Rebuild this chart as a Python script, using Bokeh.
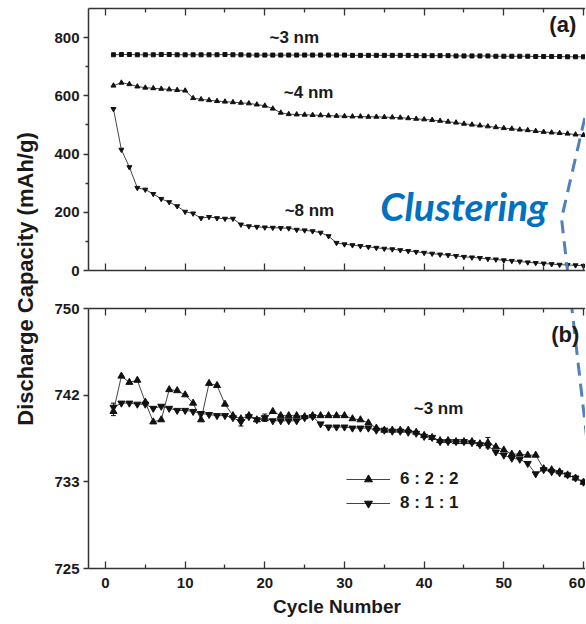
from bokeh.plotting import figure
from bokeh.layouts import row, column
from bokeh.models import (Range1d, LinearAxis, FixedTicker, Label, Legend, LegendItem,
                          Whisker, ColumnDataSource, TeeHead, CustomJSTickFormatter)
from bokeh.embed import file_html
from bokeh.resources import INLINE

# ---------------- data ----------------
cycles = list(range(1, 61))

# panel (a)
cap_3nm = [741, 742, 742, 741, 741, 741, 742, 742, 741, 741,
           741, 741, 741, 741, 742, 741, 741, 740, 740, 740,
           740, 740, 740, 740, 740, 740, 740, 740, 740, 740,
           739, 739, 739, 739, 739, 739, 739, 739, 738, 738,
           738, 738, 738, 737, 737, 737, 737, 737, 736, 736,
           736, 736, 736, 735, 735, 735, 735, 734, 734, 734]
cap_4nm = [635, 645, 640, 632, 628, 626, 624, 622, 620, 618,
           592, 588, 585, 582, 580, 578, 576, 574, 570, 566,
           556, 542, 537, 536, 535, 534, 533, 532, 531, 530,
           529, 529, 528, 528, 527, 526, 525, 523, 521, 519,
           517, 514, 511, 508, 504, 501, 498, 495, 492, 489,
           487, 484, 482, 479, 476, 474, 472, 470, 467, 465]
cap_8nm = [555, 415, 355, 284, 278, 263, 246, 235, 221, 202,
           196, 180, 184, 180, 178, 178, 158, 152, 150, 148,
           147, 146, 145, 140, 138, 135, 130, 118, 95, 90,
           87, 84, 81, 78, 75, 73, 70, 67, 64, 61,
           58, 55, 53, 50, 47, 45, 43, 40, 38, 35,
           33, 31, 28, 26, 24, 22, 20, 19, 18, 16]

# panel (b)
cap_622 = [740.1, 743.5, 742.9, 743.1, 741.0, 739.1, 739.3, 742.2, 742.1, 741.7,
           740.9, 739.3, 742.8, 742.6, 740.8, 739.7, 739.4, 739.7, 739.3, 739.4,
           740.1, 739.7, 739.7, 739.7, 739.6, 739.7, 739.7, 739.7, 739.7, 739.7,
           739.4, 739.3, 739.0, 738.5, 738.3, 738.3, 738.3, 738.3, 738.1, 737.8,
           737.6, 737.3, 737.3, 737.2, 737.2, 737.2, 737.0, 737.1, 736.7, 736.4,
           736.0, 736.0, 735.9, 735.9, 734.6, 734.5, 734.3, 734.0, 733.7, 733.3]
cap_811 = [740.5, 740.9, 740.9, 740.8, 740.8, 740.4, 740.6, 740.4, 740.2, 740.2,
           740.1, 739.9, 739.8, 739.7, 739.7, 739.5, 739.1, 739.6, 739.3, 739.5,
           739.2, 739.2, 739.2, 739.2, 739.5, 739.6, 738.9, 738.6, 738.6, 738.6,
           738.5, 738.5, 738.5, 738.3, 738.3, 738.2, 738.2, 738.1, 738.0, 737.7,
           737.6, 737.2, 737.2, 737.2, 737.2, 737.1, 736.9, 736.8, 736.2, 735.9,
           735.6, 735.5, 735.1, 734.1, 734.5, 734.3, 734.2, 734.0, 733.7, 733.3]

err_cycles = [1, 1, 17, 20, 48]
err_center = [740.1, 740.5, 739.1, 739.5, 737.1]
err_half = [0.4, 0.4, 0.4, 0.35, 0.5]

x_ticks = [0, 10, 20, 30, 40, 50, 60]
x_minor = [5, 15, 25, 35, 45, 55]
a_ticks = [0, 200, 400, 600, 800]
a_minor = [100, 300, 500, 700]
b_ticks = [725, 733.33, 741.67, 750]
b_labels = ["725", "733", "742", "750"]

series_labels = ["6 : 2 : 2", "8 : 1 : 1"]
size_labels = ["~3 nm", "~4 nm", "~8 nm"]

# ---------------- styling ----------------
FONT = "Liberation Sans"
AX_COL = "#333333"
LINE_COL = "#444444"
MK_COL = "#111111"
TXT_COL = "#1a1a1a"
BLUE_LINE = "#4f81bd"

X_RANGE = Range1d(-2.13, 60.25)


def style_axis(ax, tick_in, tick_out, minor_in, minor_out, show_labels):
    ax.axis_line_color = AX_COL
    ax.axis_line_width = 1.5
    ax.major_tick_line_color = AX_COL
    ax.minor_tick_line_color = AX_COL
    ax.major_tick_line_width = 1.3
    ax.minor_tick_line_width = 1.3
    ax.major_tick_in = tick_in
    ax.major_tick_out = tick_out
    ax.minor_tick_in = minor_in
    ax.minor_tick_out = minor_out
    ax.major_label_text_font = FONT
    ax.major_label_text_font_style = "bold"
    ax.major_label_text_color = TXT_COL
    ax.major_label_text_font_size = "15px"
    if not show_labels:
        ax.formatter = CustomJSTickFormatter(code="return ''")
        ax.major_label_standoff = 0


def x_axis(show_labels):
    ax = LinearAxis(ticker=FixedTicker(ticks=x_ticks, minor_ticks=x_minor))
    style_axis(ax, 7, 0, 4, 0, show_labels)
    if show_labels:
        ax.major_label_standoff = 9
    return ax


# ---------------- panel (a) ----------------
p1 = figure(width=541, height=289, x_range=X_RANGE, y_range=Range1d(0, 900),
            output_backend="svg", toolbar_location=None,
            x_axis_location=None, y_axis_location=None,
            min_border_left=44, min_border_right=0, min_border_top=8, min_border_bottom=19,
            outline_line_color=None, background_fill_color="white")
p1.grid.visible = False

ya = LinearAxis(ticker=FixedTicker(ticks=a_ticks, minor_ticks=a_minor))
style_axis(ya, 0, 5, 0, 3, True)
ya.major_label_standoff = 4
p1.add_layout(ya, "left")
p1.add_layout(x_axis(False), "below")
p1.add_layout(x_axis(False), "above")

for ys, mk, sz in [(cap_3nm, "square", 4), (cap_4nm, "triangle", 5), (cap_8nm, "inverted_triangle", 5)]:
    p1.line(cycles, ys, line_color=LINE_COL, line_width=1)
    p1.scatter(cycles, ys, marker=mk, size=sz, fill_color=MK_COL, line_color=MK_COL)

for (lx, ly), txt in zip([(23.7, 769), (25.5, 578), (25.6, 172)], size_labels):
    p1.add_layout(Label(x=lx, y=ly, text=txt, text_align="center",
                        text_font=FONT, text_font_size="17px", text_font_style="bold",
                        text_color=TXT_COL))
p1.add_layout(Label(x=57.4, y=845, text="(a)", text_align="center", text_baseline="middle",
                    text_font=FONT, text_font_size="22px", text_font_style="bold",
                    text_color=TXT_COL))
p1.add_layout(Label(x=34.5, y=144, text="Clustering", text_align="left",
                    text_font="Lato", text_font_size="39px", text_font_style="bold italic",
                    text_color="#0070c0"))
p1.line([60.75, 57.24, 58.42], [594, 178.6, -103], line_color=BLUE_LINE, line_width=3,
        line_dash="13 8")

# ---------------- panel (b) ----------------
p2 = figure(width=541, height=335, x_range=X_RANGE, y_range=Range1d(725, 750),
            output_backend="svg", toolbar_location=None,
            x_axis_location=None, y_axis_location=None,
            min_border_left=44, min_border_right=0, min_border_top=19, min_border_bottom=56,
            outline_line_color=None, background_fill_color="white")
p2.grid.visible = False

yb = LinearAxis(ticker=FixedTicker(ticks=b_ticks))
style_axis(yb, 0, 5, 0, 0, True)
yb.major_label_standoff = 4
yb.major_label_overrides = {t: l for t, l in zip(b_ticks, b_labels)}
p2.add_layout(yb, "left")
xb = x_axis(True)
xb.axis_label = "Cycle Number"
xb.axis_label_standoff = 5
xb.axis_label_text_font = FONT
xb.axis_label_text_font_size = "19px"
xb.axis_label_text_font_style = "bold"
xb.axis_label_text_color = TXT_COL
p2.add_layout(xb, "below")
p2.add_layout(x_axis(False), "above")

l622 = p2.line(cycles, cap_622, line_color=LINE_COL, line_width=1)
s622 = p2.scatter(cycles, cap_622, marker="triangle", size=7, fill_color=MK_COL, line_color=MK_COL)
l811 = p2.line(cycles, cap_811, line_color=LINE_COL, line_width=1)
s811 = p2.scatter(cycles, cap_811, marker="inverted_triangle", size=7, fill_color=MK_COL, line_color=MK_COL)

err_src = ColumnDataSource(dict(x=err_cycles,
                                upper=[c + h for c, h in zip(err_center, err_half)],
                                lower=[c - h for c, h in zip(err_center, err_half)]))
p2.add_layout(Whisker(source=err_src, base="x", upper="upper", lower="lower", dimension="height",
                      line_color=MK_COL, line_width=1,
                      upper_head=TeeHead(size=5, line_color=MK_COL, line_width=1),
                      lower_head=TeeHead(size=5, line_color=MK_COL, line_width=1)))

p2.add_layout(Label(x=41.8, y=739.45, text=size_labels[0], text_align="center",
                    text_font=FONT, text_font_size="17px", text_font_style="bold",
                    text_color=TXT_COL))
p2.add_layout(Label(x=57.7, y=747.5, text="(b)", text_align="center", text_baseline="middle",
                    text_font=FONT, text_font_size="22px", text_font_style="bold",
                    text_color=TXT_COL))
p2.line([58.42, 60.44], [750.8, 737.3], line_color=BLUE_LINE, line_width=3, line_dash="13 8")

legend = Legend(items=[LegendItem(label=series_labels[0], renderers=[l622, s622]),
                       LegendItem(label=series_labels[1], renderers=[l811, s811])],
                location=(258, 55), glyph_width=44, glyph_height=20, label_height=20,
                label_standoff=10, spacing=4, padding=0, margin=0,
                border_line_color=None, background_fill_alpha=0,
                label_text_font=FONT, label_text_font_size="17px",
                label_text_font_style="bold", label_text_color=TXT_COL)
p2.add_layout(legend)

# ---------------- shared y-axis title ----------------
lab = figure(width=44, height=624, x_range=Range1d(0, 1), y_range=Range1d(0, 1),
             output_backend="svg", toolbar_location=None,
             x_axis_location=None, y_axis_location=None,
             min_border_left=39, min_border_right=0, min_border_top=0, min_border_bottom=67,
             outline_line_color=None)
lab.grid.visible = False
ytitle = LinearAxis(ticker=FixedTicker(ticks=[]), axis_label="Discharge Capacity (mAh/g)")
ytitle.axis_line_color = None
ytitle.major_tick_line_color = None
ytitle.minor_tick_line_color = None
ytitle.axis_label_standoff = 2
ytitle.axis_label_text_font = FONT
ytitle.axis_label_text_font_size = "22px"
ytitle.axis_label_text_font_style = "bold"
ytitle.axis_label_text_color = TXT_COL
lab.add_layout(ytitle, "left")

layout = row(lab, column(p1, p2))
open("out.html", "w").write(file_html(layout, INLINE))
